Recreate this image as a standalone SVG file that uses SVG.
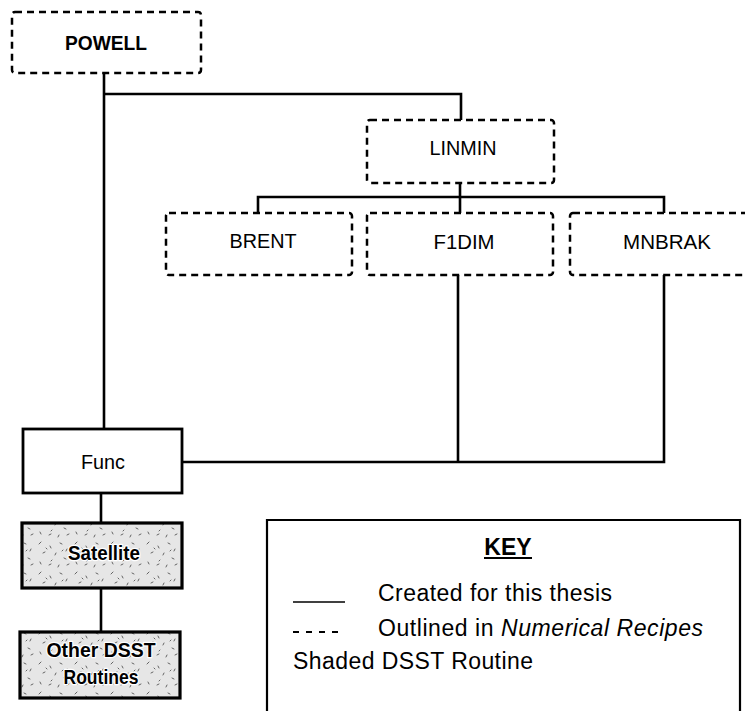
<svg xmlns="http://www.w3.org/2000/svg" width="745" height="711" viewBox="0 0 745 711">
<style>
text{font-family:"Liberation Sans",Arial,Helvetica,sans-serif;fill:#000}
.lbl{font-size:21px;text-anchor:middle}
.bold{font-weight:bold}
.dash{fill:#fff;stroke:#000;stroke-width:2.5;stroke-dasharray:7 5}
.solid{fill:#fff;stroke:#000;stroke-width:2.8}
.shade{fill:url(#stipple);stroke:#000;stroke-width:3.2}
.halo{paint-order:stroke;stroke:#fff;stroke-width:2.5;stroke-linejoin:round}
.conn{fill:none;stroke:#000;stroke-width:2.6}
.key{font-size:23px}
</style>
<defs>
<pattern id="stipple" width="36" height="30" patternUnits="userSpaceOnUse">
<rect width="36" height="30" fill="#e6e6e6"/>
<g stroke="#555" stroke-width="0.9" stroke-linecap="round">
<path d="M3 4l2 -2M14 6l1 2M24 3l2 1M31 9l-1 2M7 13l2 -1M19 15l1 -2M28 18l2 1M4 22l1 2M13 25l2 -1M22 27l1 -2M33 24l-2 1M10 8l1 1M26 11l1 -1M16 20l-1 1"/>
</g>
</pattern>
</defs>

<g id="connectors">
<path class="conn" d="M104 73V429"/>
<path class="conn" d="M104 94H461V120"/>
<path class="conn" d="M460 183V213"/>
<path class="conn" d="M258 213V197H664V213"/>
<path class="conn" d="M458 275V462"/>
<path class="conn" d="M664 275V462H182"/>
<path class="conn" d="M101 493V523"/>
<path class="conn" d="M101 588V632"/>
</g>

<g id="node-powell">
<rect class="dash" x="12" y="12" width="189" height="61" rx="3"/>
<text class="lbl bold" x="106" y="50" textLength="82" lengthAdjust="spacingAndGlyphs">POWELL</text>
</g>
<g id="node-linmin">
<rect class="dash" x="367" y="120" width="187" height="63" rx="3"/>
<text class="lbl" x="463" y="155" textLength="67" lengthAdjust="spacingAndGlyphs">LINMIN</text>
</g>
<g id="node-brent">
<rect class="dash" x="166" y="213" width="186" height="62" rx="3"/>
<text class="lbl" x="263" y="248" textLength="67" lengthAdjust="spacingAndGlyphs">BRENT</text>
</g>
<g id="node-f1dim">
<rect class="dash" x="367" y="213" width="186" height="62" rx="3"/>
<text class="lbl" x="464" y="249" textLength="61" lengthAdjust="spacingAndGlyphs">F1DIM</text>
</g>
<g id="node-mnbrak">
<rect class="dash" x="570" y="213" width="190" height="62" rx="3"/>
<text class="lbl" x="667" y="249" textLength="88" lengthAdjust="spacingAndGlyphs">MNBRAK</text>
</g>
<g id="node-func">
<rect class="solid" x="23" y="429" width="159" height="64"/>
<text class="lbl" x="103" y="469" textLength="44" lengthAdjust="spacingAndGlyphs">Func</text>
</g>
<g id="node-satellite">
<rect class="shade" x="22" y="523" width="160" height="65"/>
<text class="lbl bold halo" x="104" y="560" textLength="72" lengthAdjust="spacingAndGlyphs">Satellite</text>
</g>
<g id="node-other">
<rect class="shade" x="20" y="632" width="160" height="66"/>
<text class="lbl bold halo" x="101" y="657" textLength="109" lengthAdjust="spacingAndGlyphs">Other DSST</text>
<text class="lbl bold halo" x="101" y="684" textLength="75" lengthAdjust="spacingAndGlyphs">Routines</text>
</g>

<g id="key">
<path d="M267 720V520H740V720" fill="none" stroke="#000" stroke-width="2.2"/>
<text class="key bold" x="508" y="555" text-anchor="middle">KEY</text>
<line x1="484" y1="558" x2="532" y2="558" stroke="#000" stroke-width="2"/>
<line x1="293" y1="602" x2="345" y2="602" stroke="#000" stroke-width="1.5"/>
<text class="key" x="378" y="601" textLength="234" lengthAdjust="spacing">Created for this thesis</text>
<line x1="293" y1="632" x2="343" y2="632" stroke="#000" stroke-width="2" stroke-dasharray="6 7"/>
<text class="key" x="378" y="636" textLength="325" lengthAdjust="spacing">Outlined in <tspan font-style="italic">Numerical Recipes</tspan></text>
<text class="key" x="293" y="669" textLength="240" lengthAdjust="spacing">Shaded  DSST Routine</text>
</g>
</svg>
